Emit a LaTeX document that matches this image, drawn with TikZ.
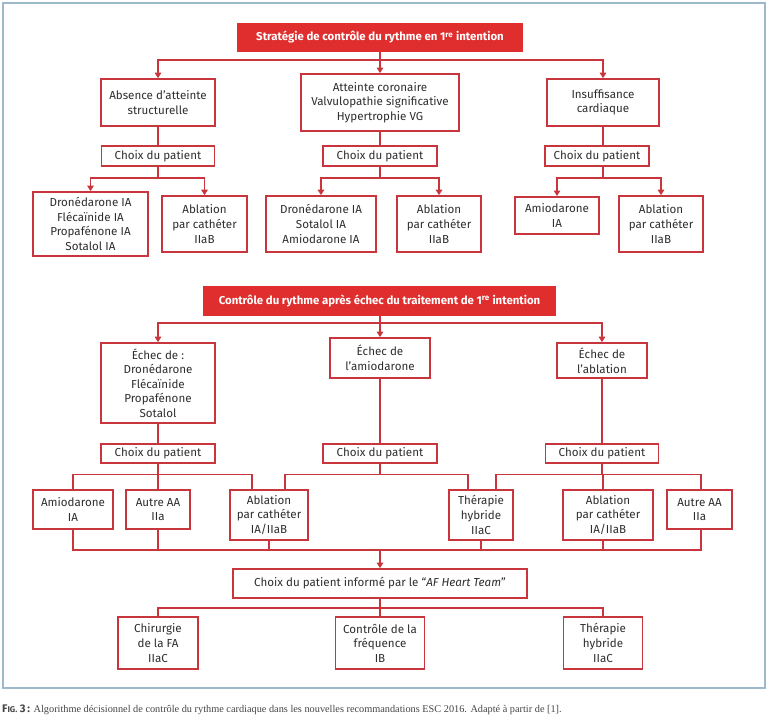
\documentclass[tikz,border=0pt]{standalone}
\usepackage{fontspec}
\setmainfont{Fira Sans}
\newfontfamily\capserif{Liberation Serif}
\usetikzlibrary{arrows.meta,calc}
\definecolor{bred}{HTML}{C8353C}
\definecolor{tred}{HTML}{E02E2E}
\definecolor{tcol}{HTML}{2E2E2E}
\definecolor{frame}{HTML}{9CBACC}
\definecolor{capcol}{HTML}{444444}
\tikzset{
  box/.style={draw=bred, line width=1.7pt, fill=white, align=center, inner sep=0pt, text=tcol, font=\fontsize{11.6}{14.6}\selectfont},
  titlebox/.style={fill=tred, draw=none, text=white, align=center, inner sep=0pt, font=\bfseries\fontsize{11.4}{13}\selectfont},
  conn/.style={draw=bred, line width=1.6pt},
  arr/.style={conn, -{Triangle[width=6.5pt,length=5.5pt]}},
}
\begin{document}
\begin{tikzpicture}[x=1pt,y=-1pt]
\useasboundingbox (0,0) rectangle (768,721);
\draw[frame, line width=1.6pt] (3,3) rectangle (765,688);
% ---------- section 1
\node[titlebox, minimum width=286, minimum height=29] (t1) at (380,37.5) {Stratégie de contrôle du rythme en 1\textsuperscript{re} intention};
\node[box, minimum width=114, minimum height=47] (a1) at (158,102.5) {Absence d’atteinte\\structurelle};
\node[box, minimum width=158, minimum height=57] (a2) at (380,102.5) {Atteinte coronaire\\Valvulopathie significative\\Hypertrophie VG};
\node[box, minimum width=112, minimum height=47] (a3) at (603,102.5) {Insuffisance\\cardiaque};
\node[box, minimum width=113, minimum height=20] (c1) at (158,156) {Choix du patient};
\node[box, minimum width=114, minimum height=20] (c2) at (380,156) {Choix du patient};
\node[box, minimum width=104, minimum height=20] (c3) at (597,156) {Choix du patient};
\node[box, minimum width=115, minimum height=64] (d1) at (90.5,224) {Dronédarone IA\\Flécaïnide IA\\Propafénone IA\\Sotalol IA};
\node[box, minimum width=85, minimum height=56] (d2) at (204.5,224) {Ablation\\par cathéter\\IIaB};
\node[box, minimum width=110, minimum height=56] (d3) at (321,224) {Dronédarone IA\\Sotalol IA\\Amiodarone IA};
\node[box, minimum width=84, minimum height=56] (d4) at (439,224) {Ablation\\par cathéter\\IIaB};
\node[box, minimum width=84, minimum height=37, anchor=north] (d5) at (557,196) {Amiodarone\\IA};
\node[box, minimum width=84, minimum height=56] (d6) at (661,224) {Ablation\\par cathéter\\IIaB};
\coordinate (s1) at (380,60);
\draw[conn] (t1.south) -- (s1);
\draw[arr] (s1) -| (a1.north);
\draw[arr] (s1) -- (a2.north);
\draw[arr] (s1) -| (a3.north);
\draw[conn] (a1.south) -- (c1.north);
\draw[conn] (a2.south) -- (c2.north);
\draw[conn] (a3.south) -- (a3.south |- c3.north);
\draw[arr] (c1.south) -- ++(0,11) -| (d1.north);
\draw[arr] (c1.south) -- ++(0,11) -| (d2.north);
\draw[arr] (c2.south) -- ++(0,11) -| (d3.north);
\draw[arr] (c2.south) -- ++(0,11) -| (d4.north);
\draw[conn] (a3.south |- c3.south) -- ++(0,11) coordinate (b3);
\draw[arr] (b3) -| (d5.north);
\draw[arr] (b3) -| (d6.north);
% ---------- section 2
\node[titlebox, minimum width=353, minimum height=30] (t2) at (379.5,301) {Contrôle du rythme après échec du traitement de 1\textsuperscript{re} intention};
\node[box, minimum width=114, minimum height=80] (e1) at (158,383) {Échec de :\\Dronédarone\\Flécaïnide\\Propafénone\\Sotalol};
\node[box, minimum width=100, minimum height=40] (e2) at (380,358) {Échec de\\l’amiodarone};
\node[box, minimum width=90, minimum height=35] (e3) at (602,360.5) {Échec de\\l’ablation};
\node[box, minimum width=114, minimum height=19] (f1) at (158,453.5) {Choix du patient};
\node[box, minimum width=114, minimum height=19] (f2) at (380,453.5) {Choix du patient};
\node[box, minimum width=113, minimum height=19] (f3) at (602,453.5) {Choix du patient};
\node[box, minimum width=80, minimum height=39] (g1) at (73,509.5) {Amiodarone\\IA};
\node[box, minimum width=64, minimum height=39] (g2) at (158,509.5) {Autre AA\\IIa};
\node[box, minimum width=78, minimum height=50] (g3) at (269,515) {Ablation\\par cathéter\\IA/IIaB};
\node[box, minimum width=64, minimum height=50] (g4) at (481,515) {Thérapie\\hybride\\IIaC};
\node[box, minimum width=90, minimum height=50] (g5) at (608,515) {Ablation\\par cathéter\\IA/IIaB};
\node[box, minimum width=65, minimum height=39] (g6) at (699.5,509.5) {Autre AA\\IIa};
\coordinate (s2) at (380,323);
\draw[conn] (t2.south -| s2) -- (s2);
\draw[arr] (s2) -| (e1.north);
\draw[arr] (s2) -- (e2.north);
\draw[arr] (s2) -| (e3.north);
\draw[conn] (e1.south) -- (f1.north);
\draw[conn] (e2.south) -- (f2.north);
\draw[conn] (e3.south) -- (f3.north);
\draw[conn] (f1.south) -- ++(0,10.5) -| (g1.north);
\draw[conn] (f1.south) -- ++(0,10.5) -| (g2.north);
\draw[conn] (f1.south) -- ++(0,10.5) -| ($(g3.north)+(-17,0)$);
\draw[conn] (f2.south) -- ++(0,10.5) -| ($(g3.north)+(16,0)$);
\draw[conn] (f2.south) -- ++(0,10.5) -| ($(g4.north)+(-13,0)$);
\draw[conn] (f3.south) -- ++(0,10.5) -| ($(g4.north)+(15,0)$);
\draw[conn] (f3.south) -- ++(0,10.5) -| ($(g5.north)+(-5,0)$);
\draw[conn] (f3.south) -- ++(0,10.5) -| ($(g6.north)+(1.5,0)$);
% ---------- collector
\node[box, minimum width=294, minimum height=29] (h) at (380,583.5) {Choix du patient informé par le “\textit{AF Heart Team}”};
\coordinate (col) at (380,550);
\draw[conn] (g1.south) |- (col);
\draw[conn] ($(g6.south)+(1.5,0)$) |- (col);
\draw[conn] (g2.south) -- (g2.south |- col);
\draw[conn] (g3.south) -- (g3.south |- col);
\draw[conn] (g4.south) -- (g4.south |- col);
\draw[conn] ($(g5.south)+(-5,0)$) -- ($(g5.south |- col)+(-5,0)$);
\draw[arr] (col) -- (h.north);
\node[box, minimum width=80, minimum height=52] (i1) at (158,643) {Chirurgie\\de la FA\\IIaC};
\node[box, minimum width=89, minimum height=52] (i2) at (380,643) {Contrôle de la\\fréquence\\IB};
\node[box, minimum width=79, minimum height=52] (i3) at (603,643) {Thérapie\\hybride\\IIaC};
\coordinate (s3) at (380,608);
\draw[conn] (h.south) -- (s3);
\draw[conn] (s3) -| (i1.north);
\draw[conn] (s3) -- (i2.north);
\draw[conn] (s3) -| (i3.north);
% ---------- caption
\node[anchor=west, inner sep=0pt, text=capcol] (cap) at (2,710) {{\bfseries\fontsize{11}{13}\selectfont F{\fontsize{8.3}{10}\selectfont IG.} 3\,:} {\capserif\fontsize{10.3}{12}\selectfont Algorithme décisionnel de contrôle du rythme cardiaque dans les nouvelles recommandations ESC 2016. Adapté à partir de [1].}};
\end{tikzpicture}
\end{document}
